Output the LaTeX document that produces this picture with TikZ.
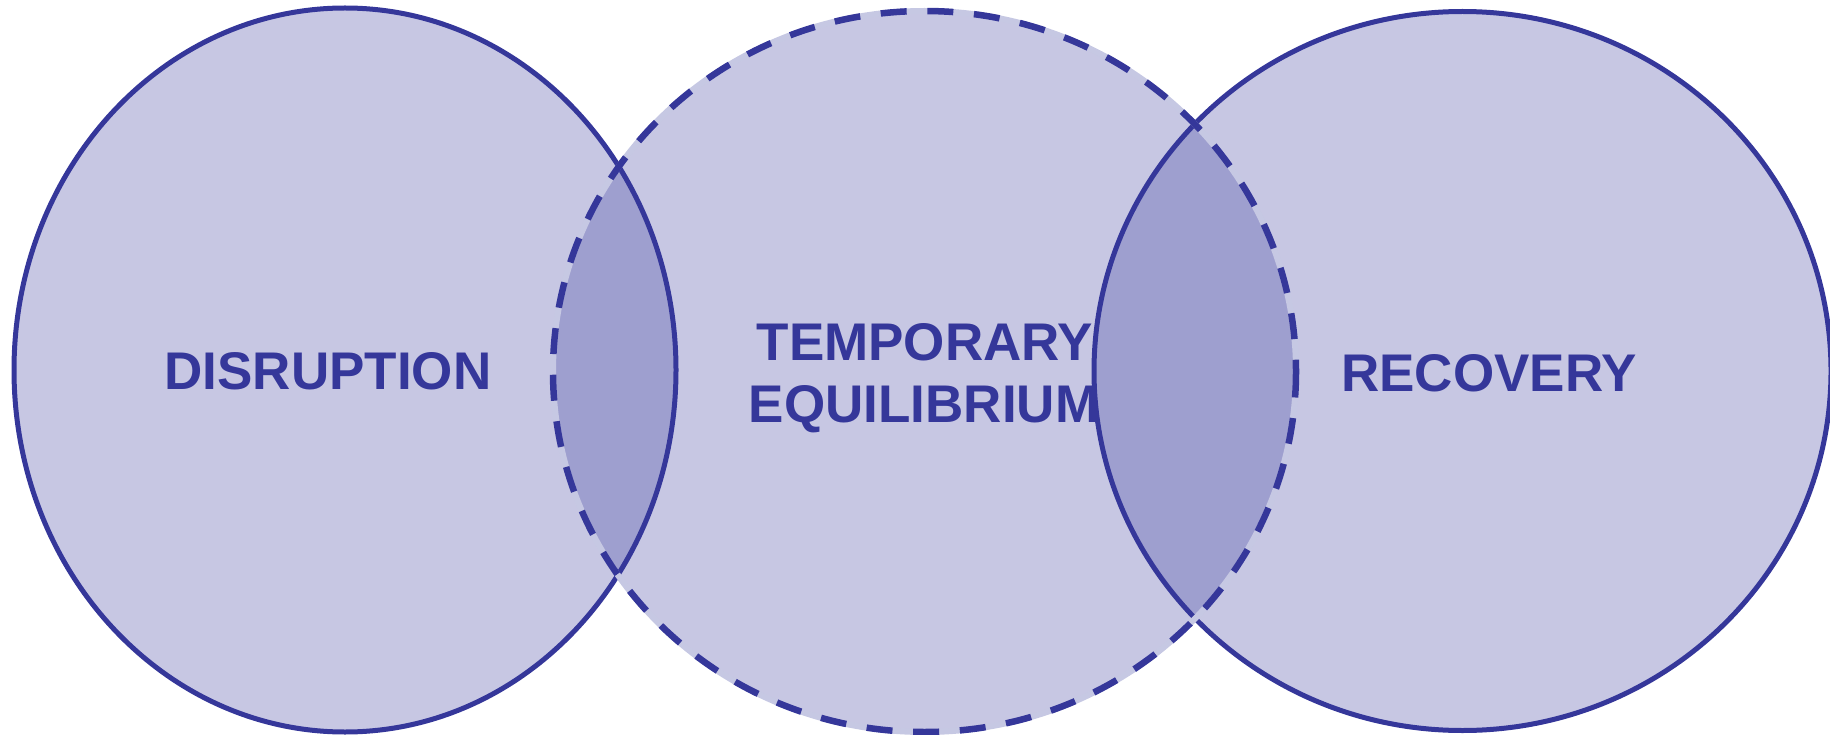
\documentclass[tikz,border=0pt]{standalone}
\usepackage{fontspec}
\setmainfont{Liberation Sans}
\definecolor{vblue}{HTML}{35379A}
\definecolor{vlight}{HTML}{C6C8E3}
\begin{document}
\begin{tikzpicture}[x=1pt,y=-1pt,
  setfill/.style={fill=vblue,fill opacity=0.28},
  solidrim/.style={draw=vblue,line width=5pt},
  lightrim/.style={draw=vlight,line width=6pt},
  dashrim/.style={draw=vblue,line width=6.5pt,dash pattern=on 26pt off 20.7pt},
  lbl/.style={text=vblue,font=\fontsize{53}{62}\selectfont\bfseries,inner sep=0pt,anchor=base}]
\useasboundingbox (0,0) rectangle (1830,735);
\clip (0,0) rectangle (1830,735);
% fills
\path[setfill] (345,370) ellipse [x radius=331, y radius=362];
\path[setfill] (924.5,371.5) ellipse [x radius=371.5, y radius=360.5];
\path[setfill] (1462.5,371) ellipse [x radius=368.5, y radius=359.5];
% solid rims
\path[solidrim] (345,370) ellipse [x radius=331, y radius=362];
\path[solidrim] (1462.5,371) ellipse [x radius=368.5, y radius=359.5];
% dashed rim of the middle set
\path[lightrim] (924.5,371.5) ellipse [x radius=371.5, y radius=360.5];
\path[dashrim] (924.5,371.5) ellipse [x radius=371.5, y radius=360.5];
% labels
\node[lbl] (dis) at (328,389) {DISRUPTION};
\node[lbl] (tmp) at (925,360) {TEMPORARY};
\node[lbl] (equ) at (924,422) {EQUILIBRIUM};
\node[lbl] (rec) at (1489,391) {RECOVERY};
\end{tikzpicture}
\end{document}
